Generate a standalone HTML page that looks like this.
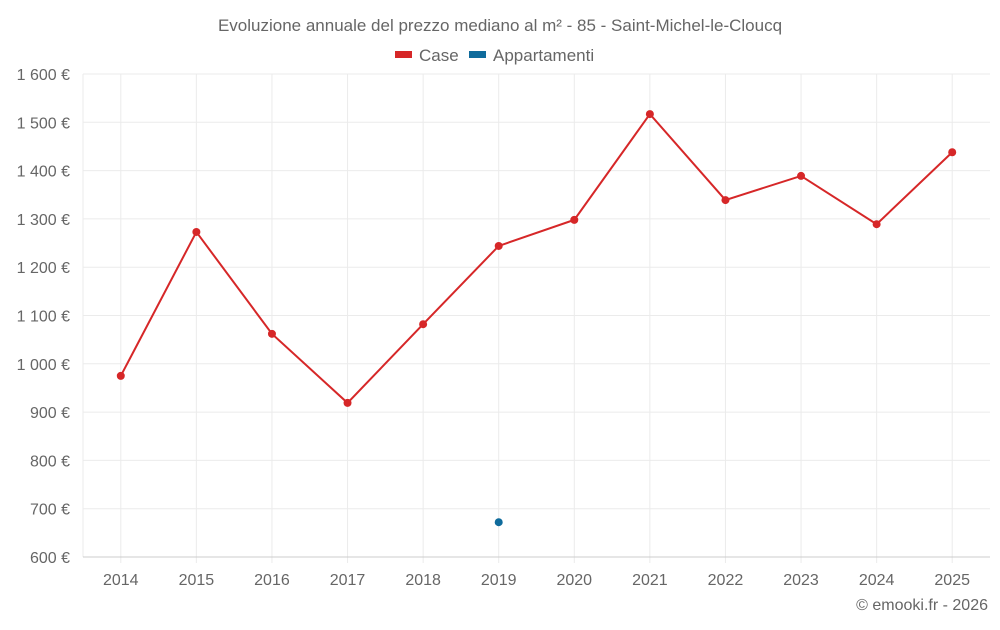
<!DOCTYPE html>
<html><head><meta charset="utf-8">
<style>
html,body{margin:0;padding:0;background:#fff;}
body{width:1000px;height:625px;overflow:hidden;font-family:"Liberation Sans",sans-serif;}
svg text{font-family:"Liberation Sans",sans-serif;fill:#666;}
</style></head>
<body>
<svg id="chart" width="1000" height="625">
<text x="500" y="31" text-anchor="middle" font-size="17">Evoluzione annuale del prezzo mediano al m² - 85 - Saint-Michel-le-Cloucq</text>
<g><rect x="395" y="51" width="17" height="7" fill="#d62728"/><text x="419" y="61" font-size="17">Case</text></g>
<g><rect x="469" y="51" width="17" height="7" fill="#0f6b9c"/><text x="493" y="61" font-size="17">Appartamenti</text></g>
<g id="grid"></g><g id="axes"></g><g id="marks"></g>
<text x="988" y="610" text-anchor="end" font-size="16">© emooki.fr - 2026</text>
</svg>
<script>
const categories=["2014","2015","2016","2017","2018","2019","2020","2021","2022","2023","2024","2025"];
const caseValues=[975,1273,1062,919,1082,1244,1298,1517,1339,1389,1289,1438];
const appValues=[null,null,null,null,null,672,null,null,null,null,null,null];
const yTicks=[600,700,800,900,1000,1100,1200,1300,1400,1500,1600];
const yTickLabels=["600 €","700 €","800 €","900 €","1 000 €","1 100 €","1 200 €","1 300 €","1 400 €","1 500 €","1 600 €"];
const L=83,R=990,T=74,B=557,ymin=600,ymax=1600;
const ns="http://www.w3.org/2000/svg";
const bw=(R-L)/categories.length;
function xs(i){return L+bw*(i+0.5);}
function ys(v){return B-(v-ymin)/(ymax-ymin)*(B-T);}
function mk(tag,a,p){const e=document.createElementNS(ns,tag);for(const k in a)e.setAttribute(k,a[k]);p.appendChild(e);return e;}
const g=document.getElementById('grid'),ax=document.getElementById('axes'),m=document.getElementById('marks');
const edge=mk('line',{x1:L,x2:L,y1:T,y2:B,stroke:'#ebebeb','stroke-width':1},g);


categories.forEach((c,i)=>{
 const l=mk('line',{x1:xs(i),x2:xs(i),y1:T,y2:B+6,stroke:'#ebebeb','stroke-width':1},g);
 
 
});
yTicks.forEach((v,i)=>{
 const l=mk('line',{x1:L,x2:R,y1:ys(v),y2:ys(v),stroke:i==0?'#ccc':'#ebebeb','stroke-width':1},g);
 
 
 const t=mk('text',{x:70,y:ys(v)+6,'text-anchor':'end','font-size':16},ax);t.textContent=yTickLabels[i];
 
 
});
categories.forEach((c,i)=>{
 const t=mk('text',{x:xs(i),y:585,'text-anchor':'middle','font-size':16},ax);t.textContent=c;
 
 
});
const pts=caseValues.map((v,i)=>xs(i)+','+ys(v)).join(' ');
const pl=mk('polyline',{points:pts,fill:'none',stroke:'#d62728','stroke-width':2},m);


caseValues.forEach((v,i)=>{
 const c=mk('circle',{cx:xs(i),cy:ys(v),r:4,fill:'#d62728'},m);
 
 
});
appValues.forEach((v,i)=>{if(v==null)return;
 const c=mk('circle',{cx:xs(i),cy:ys(v),r:4,fill:'#0f6b9c'},m);
 
 
});
</script>
</body></html>
